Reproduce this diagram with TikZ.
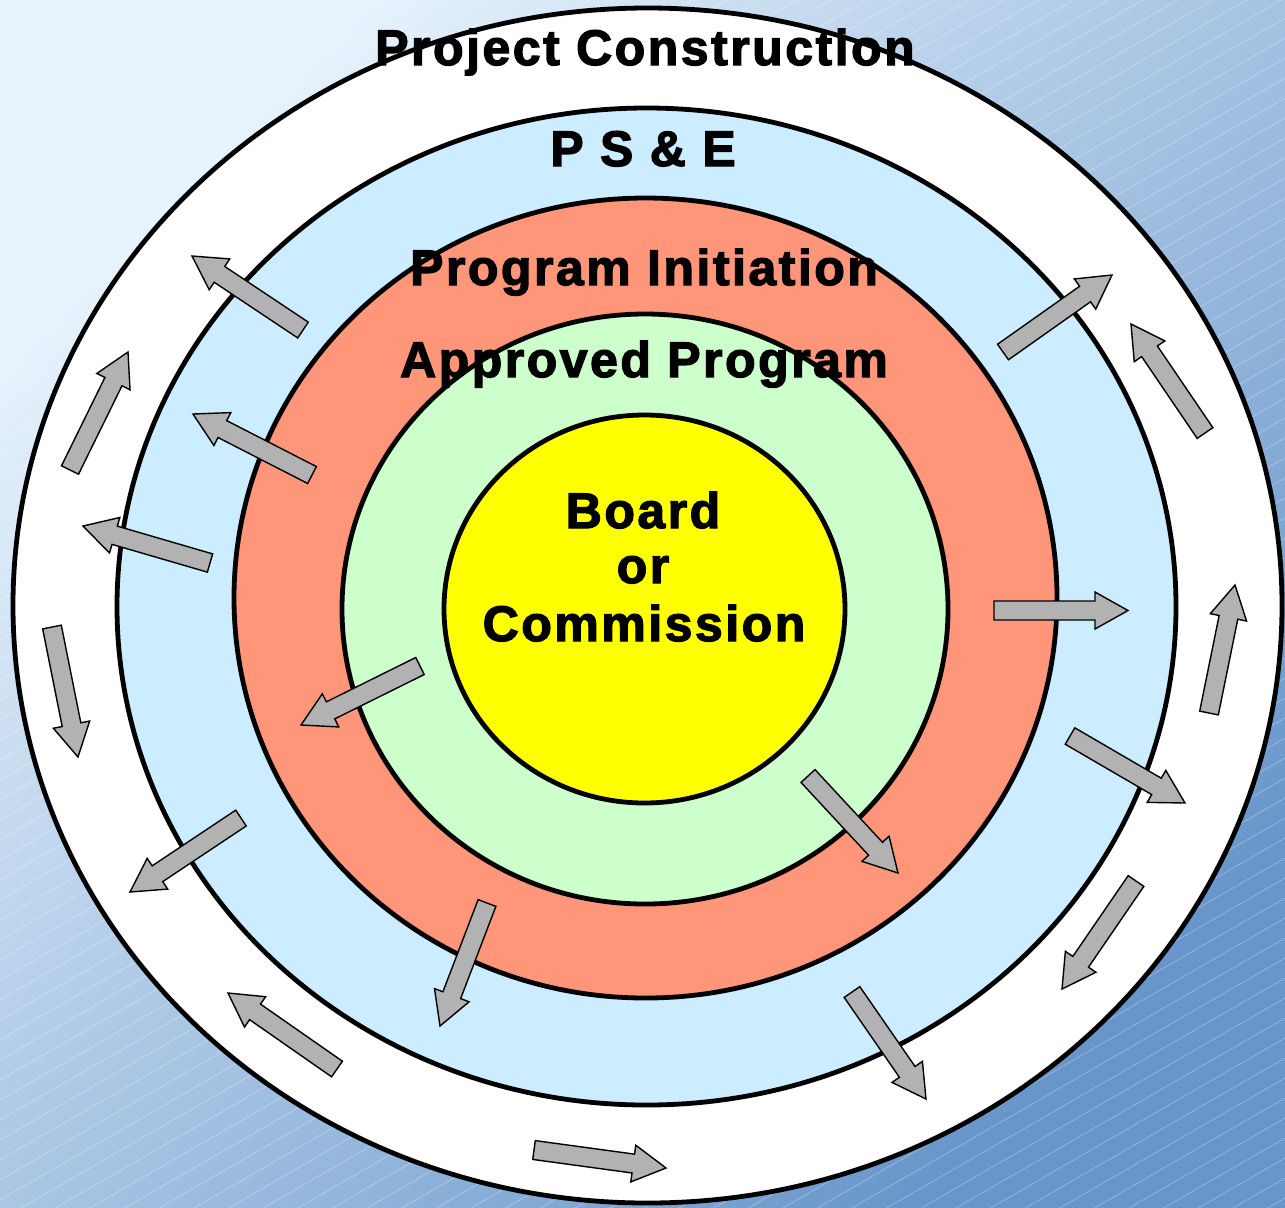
\documentclass[tikz,border=0pt]{standalone}
\usepackage{fontspec}
\newfontfamily\lblfont[LetterSpace=5, FakeBold=2.5]{Liberation Sans}
\definecolor{bgtop}{RGB}{230,242,252}
\definecolor{bgmid}{RGB}{180,203,230}
\definecolor{bgbot}{RGB}{104,150,202}
\definecolor{ringblue}{RGB}{204,236,255}
\definecolor{ringsalmon}{RGB}{255,149,121}
\definecolor{ringgreen}{RGB}{204,255,204}
\definecolor{ringyellow}{RGB}{255,255,0}
\definecolor{arrowgray}{RGB}{178,178,178}

% block arrow from tail (#1,#2) to tip (#3,#4), coordinates in px
\newcommand{\flowarrow}[4]{%
  \pgfmathsetmacro\faang{atan2(#4-#2,#3-#1)}%
  \pgfmathsetmacro\falen{veclen(#3-#1,#4-#2)}%
  \pgfmathsetmacro\fabase{\falen-33}%
  \filldraw[arrowbody, shift={(#1,#2)}, rotate=-\faang]
    (0,-9.5) -- (\fabase,-9.5) -- (\fabase,-18.5) -- (\falen,0)
    -- (\fabase,18.5) -- (\fabase,9.5) -- (0,9.5) -- cycle;
}

\tikzset{
  ring/.style={draw=black, line width=2.4pt},
  arrowbody/.style={fill=arrowgray, draw=black, line width=0.7pt, line join=miter},
  lbl/.style={font=\lblfont\bfseries\fontsize{25}{28}\selectfont, anchor=base, inner sep=0pt, text=black},
  hatch/.style={white, opacity=0.35, line width=0.3pt}
}

\begin{document}
\begin{tikzpicture}[x=0.5pt, y=-0.5pt]
  \useasboundingbox (0,0) rectangle (1285,1207);

  % background gradient with faint diagonal hatching
  \shade[shading=axis, top color=bgtop, middle color=bgmid, bottom color=bgbot, shading angle=45]
    (0,0) rectangle (1285,1207);
  \begin{scope}
    \clip (0,0) rectangle (1285,1207);
    \foreach \c in {0,20,...,1960}
      \draw[hatch] (0,\c) -- (1285,\c-742);
  \end{scope}

  % concentric rings
  \filldraw[ring, fill=white]      (647.5,605.5) ellipse [x radius=634.5, y radius=597.5];
  \filldraw[ring, fill=ringblue]   (646.5,606.5) ellipse [x radius=529.5, y radius=498.5];
  \filldraw[ring, fill=ringsalmon] (645.5,598)   ellipse [x radius=411.5, y radius=400];
  \filldraw[ring, fill=ringgreen]  (645,609)     ellipse [x radius=303,   y radius=295];
  \filldraw[ring, fill=ringyellow] (644.5,609)   ellipse [x radius=200.5, y radius=194];

  % arrows
  \flowarrow{303}{330}{192}{256}
  \flowarrow{312}{475}{193}{414}
  \flowarrow{210}{563}{83}{526}
  \flowarrow{70}{470}{128}{352}
  \flowarrow{52}{627}{78}{757}
  \flowarrow{241}{818}{130}{892}
  \flowarrow{420}{666}{301}{725}
  \flowarrow{487}{903}{440}{1026}
  \flowarrow{337}{1069}{228}{993}
  \flowarrow{534}{1150}{666}{1168}
  \flowarrow{852}{992}{926}{1099}
  \flowarrow{1136}{881}{1062}{989}
  \flowarrow{1070}{736}{1185}{803}
  \flowarrow{808}{776}{898}{873}
  \flowarrow{994}{610.5}{1128}{610.5}
  \flowarrow{1209}{713}{1235}{585}
  \flowarrow{1205}{433}{1131}{324}
  \flowarrow{1003}{352}{1112}{275}

  % labels
  \node[lbl] (construction) at (645,65)  {Project Construction};
  \node[lbl] (pse)          at (643,166) {P S \& E};
  \node[lbl] (initiation)   at (644,285) {Program Initiation};
  \node[lbl] (approved)     at (644,377) {Approved Program};
  \node[lbl] (board)        at (643,528) {Board};
  \node[lbl] (or)           at (643,583) {or};
  \node[lbl] (commission)   at (644,641) {Commission};
\end{tikzpicture}
\end{document}
